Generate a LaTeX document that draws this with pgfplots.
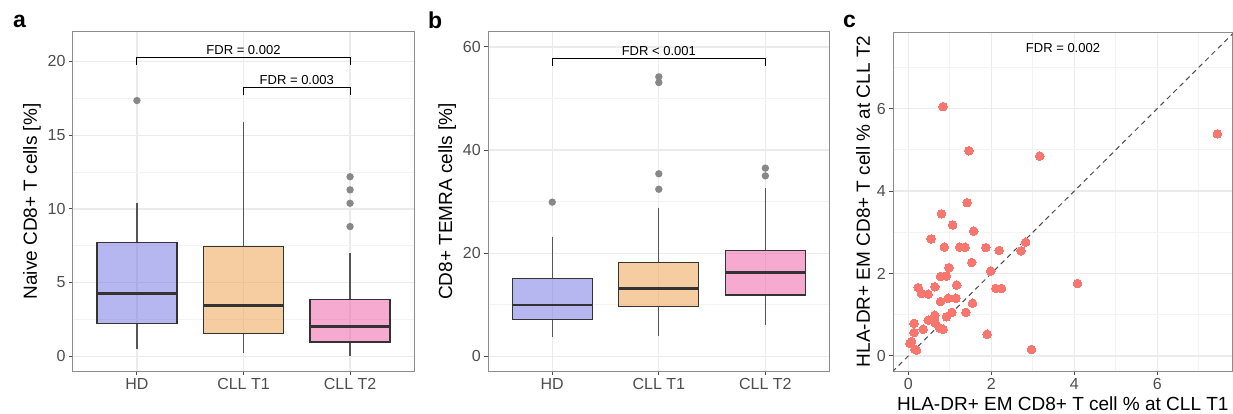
\documentclass[border=0pt]{standalone}
\usepackage{fontspec}
\setmainfont{Liberation Sans}
\usepackage{pgfplots}
\pgfplotsset{compat=1.18}
\usepgfplotslibrary{statistics}

\definecolor{hdcol}{RGB}{109,109,225}
\definecolor{t1col}{RGB}{236,156,66}
\definecolor{t2col}{RGB}{239,86,160}
\definecolor{boxline}{RGB}{51,51,51}
\definecolor{whisk}{RGB}{85,85,85}
\definecolor{outcol}{RGB}{136,136,136}
\definecolor{framecol}{RGB}{140,140,140}
\definecolor{gridcol}{RGB}{235,235,235}
\definecolor{gridmin}{RGB}{243,243,243}
\definecolor{ticklab}{RGB}{77,77,77}
\definecolor{ptcol}{RGB}{248,118,109}

\pgfplotsset{
  gg/.style={
    scale only axis, width=341pt, height=339pt,
    axis line style={draw=framecol, line width=1pt},
    tick align=outside, tick pos=left,
    major tick length=4pt, minor tick length=0pt,
    every tick/.style={draw=black!70, line width=1pt},
    grid=both,
    major grid style={draw=gridcol, line width=1.3pt},
    minor grid style={draw=gridmin, line width=0.8pt},
    tick label style={font=\fontsize{16}{18}\selectfont, text=ticklab},
    label style={font=\fontsize{19}{22}\selectfont},
    /pgf/number format/assume math mode=true,
    boxplot/draw direction=y,
  },
  bx/.style={
    draw=boxline, line width=1.3pt, fill=#1, fill opacity=0.5,
    mark=*, mark size=3pt, mark options={draw=outcol, fill=outcol, fill opacity=1},
    boxplot/draw direction=y,
    boxplot/every median/.style={line width=2.6pt},
    boxplot/every whisker/.style={draw=whisk, line width=1.2pt},
  },
}

\newcommand{\fdr}{\fontsize{13}{15}\selectfont}

\begin{document}
\begin{tikzpicture}
\useasboundingbox (0,0) rectangle (1233pt,413pt);

% panel a
\begin{axis}[gg, at={(73pt,42pt)}, anchor=south west,
  xmin=0.4, xmax=3.6, ymin=-1.0, ymax=22.0,
  xtick={1,2,3}, xticklabels={HD,CLL T1,CLL T2},
  ytick={0,5,10,15,20}, minor ytick={2.5,7.5,12.5,17.5},
  ylabel={Naive CD8+ T cells [\%]}]
\addplot[bx=hdcol, boxplot prepared={draw position=1, lower whisker=0.52, lower quartile=2.22, median=4.27, upper quartile=7.71, upper whisker=10.38, box extend=0.75, whisker extend=0}]
  coordinates {(0,17.35)};
\addplot[bx=t1col, boxplot prepared={draw position=2, lower whisker=0.25, lower quartile=1.54, median=3.45, upper quartile=7.44, upper whisker=15.9, box extend=0.75, whisker extend=0}]
  coordinates {};
\addplot[bx=t2col, boxplot prepared={draw position=3, lower whisker=0.05, lower quartile=0.97, median=2.02, upper quartile=3.86, upper whisker=6.99, box extend=0.75, whisker extend=0}]
  coordinates {(0,8.80) (0,10.38) (0,11.29) (0,12.18)};
\draw[black, line width=1pt] (axis cs:1,19.76) -- (axis cs:1,20.3) -- (axis cs:3,20.3) -- (axis cs:3,19.76);
\node[anchor=base, inner sep=0pt] at ([yshift=3pt]axis cs:2,20.3) {\fdr FDR = 0.002};
\draw[black, line width=1pt] (axis cs:2,17.7) -- (axis cs:2,18.23) -- (axis cs:3,18.23) -- (axis cs:3,17.7);
\node[anchor=base, inner sep=0pt] at ([yshift=3pt]axis cs:2.5,18.23) {\fdr FDR = 0.003};
\end{axis}

% panel b
\begin{axis}[gg, at={(488.3pt,42pt)}, anchor=south west,
  xmin=0.4, xmax=3.6, ymin=-2.85, ymax=62.9,
  xtick={1,2,3}, xticklabels={HD,CLL T1,CLL T2},
  ytick={0,20,40,60}, minor ytick={10,30,50},
  ylabel={CD8+ TEMRA cells [\%]}]
\addplot[bx=hdcol, boxplot prepared={draw position=1, lower whisker=3.8, lower quartile=7.2, median=9.95, upper quartile=15.05, upper whisker=23.2, box extend=0.75, whisker extend=0}]
  coordinates {(0,29.9)};
\addplot[bx=t1col, boxplot prepared={draw position=2, lower whisker=3.94, lower quartile=9.62, median=13.1, upper quartile=18.15, upper whisker=28.8, box extend=0.75, whisker extend=0}]
  coordinates {(0,32.4) (0,35.4) (0,53.1) (0,54.2)};
\addplot[bx=t2col, boxplot prepared={draw position=3, lower whisker=6.1, lower quartile=11.9, median=16.2, upper quartile=20.5, upper whisker=32.7, box extend=0.75, whisker extend=0}]
  coordinates {(0,35.0) (0,36.5)};
\draw[black, line width=1pt] (axis cs:1,56.3) -- (axis cs:1,57.7) -- (axis cs:3,57.7) -- (axis cs:3,56.3);
\node[anchor=base, inner sep=0pt] at ([yshift=3pt]axis cs:2,57.7) {\fdr FDR < 0.001};
\end{axis}

% panel c
\begin{axis}[gg, at={(893.3pt,42pt)}, anchor=south west, width=339pt,
  xmin=-0.36, xmax=7.81, ymin=-0.364, ymax=7.86,
  xtick={0,2,4,6}, ytick={0,2,4,6},
  minor xtick={1,3,5,7}, minor ytick={1,3,5,7},
  xlabel={HLA-DR+ EM CD8+ T cell \% at CLL T1},
  ylabel={HLA-DR+ EM CD8+ T cell \% at CLL T2}]
\addplot[dashed, dash pattern=on 5pt off 4pt, draw=black!70, line width=1pt] coordinates {(-1,-1) (9,9)};
\addplot[only marks, color=ptcol, mark=*, mark size=4.3pt, mark options={draw=ptcol, fill=ptcol, line width=0pt}] coordinates {
(0.84,6.05) (1.46,4.98) (3.17,4.85) (7.45,5.39) (1.42,3.72) (0.80,3.45)
(1.07,3.18) (1.58,3.03) (0.55,2.84) (0.87,2.64) (1.24,2.64) (1.37,2.64)
(1.87,2.63) (2.19,2.56) (2.72,2.55) (2.83,2.76) (1.53,2.27) (0.98,2.14)
(1.99,2.06) (0.78,1.93) (0.92,1.94) (1.17,1.72) (0.24,1.66) (0.64,1.68)
(2.11,1.64) (2.25,1.64) (4.08,1.76) (0.32,1.52) (0.48,1.50) (0.96,1.40)
(1.15,1.40) (0.78,1.32) (1.55,1.28) (1.39,1.06) (1.05,1.06) (0.92,0.95)
(0.64,0.99) (0.62,0.90) (0.48,0.87) (0.76,0.67) (0.84,0.65) (0.36,0.65)
(0.14,0.79) (0.14,0.57) (0.08,0.35) (0.04,0.31) (0.16,0.16) (0.20,0.14)
(1.90,0.53) (2.97,0.16) (0.65,0.80)
};
\node[anchor=base, inner sep=0pt] at (axis cs:3.73,7.37) {\fdr FDR = 0.002};
\end{axis}

\node[anchor=base west, inner sep=0pt, font=\fontsize{23}{25}\selectfont\bfseries] at (13pt,385pt) {a};
\node[anchor=base west, inner sep=0pt, font=\fontsize{23}{25}\selectfont\bfseries] at (428pt,384pt) {b};
\node[anchor=base west, inner sep=0pt, font=\fontsize{23}{25}\selectfont\bfseries] at (843pt,385pt) {c};
\end{tikzpicture}
\end{document}
